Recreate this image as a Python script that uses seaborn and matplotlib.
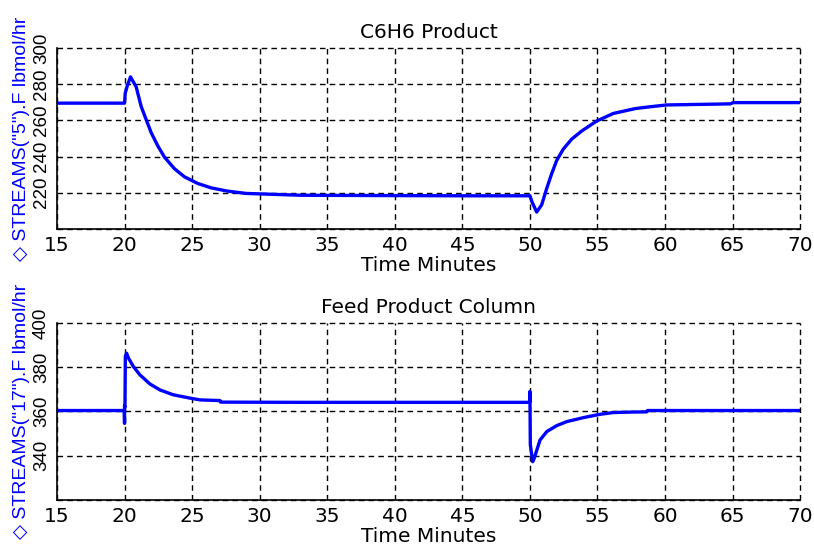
import matplotlib
matplotlib.use("Agg")
import matplotlib.pyplot as plt
import pandas as pd
import seaborn as sns

# C6H6 product stream flow (lbmol/hr) over time (minutes)
time_c6h6 = [15, 20.0, 20.05, 20.2, 20.44, 20.86, 21.23, 21.6, 21.97, 22.46, 22.96,
             23.69, 24.43, 25.42, 26.4, 27.6, 29.0, 33.0, 40.0, 45.0, 50.0, 50.15,
             50.5, 50.87, 51.24, 51.61, 51.98, 52.47, 53.09, 53.83, 54.94, 56.17,
             57.8, 58.89, 60.13, 64.82, 65.06, 70.0]
flow_c6h6 = [269.5, 269.5, 275.0, 279.0, 284.0, 278.5, 267.7, 260.4, 253.2, 245.9, 239.6,
             233.3, 228.8, 225.1, 222.7, 220.9, 219.6, 218.6, 218.4, 218.3, 218.3, 215.0,
             209.3, 213.3, 222.3, 230.5, 237.8, 244.1, 249.6, 254.1, 259.6, 263.8,
             266.5, 267.5, 268.5, 269.1, 269.8, 269.8]

# Feed product column stream flow (lbmol/hr) over time (minutes)
time_feed = [15, 19.98, 20.0, 20.0, 20.03, 20.06, 20.15, 20.3, 20.65, 21.14, 21.88,
             22.62, 23.61, 24.85, 25.59, 27.07, 27.1, 33.0, 40.0, 45.0, 49.98,
             50.0, 50.03, 50.2, 50.3, 50.75, 51.25, 51.99, 52.73, 53.96, 55.19,
             56.18, 57.5, 58.65, 58.7, 65.0, 70.0]
flow_feed = [360.4, 360.4, 354.6, 362.5, 362.0, 385.0, 386.3, 384.0, 380.3, 376.5, 372.4,
             369.7, 367.5, 366.0, 365.2, 364.9, 364.2, 364.1, 364.1, 364.1, 364.1,
             369.0, 345.0, 337.3, 338.5, 347.1, 350.9, 353.6, 355.4, 357.2, 358.7,
             359.5, 359.7, 359.8, 360.4, 360.4, 360.4]

x_ticks = [15, 20, 25, 30, 35, 40, 45, 50, 55, 60, 65, 70]
c6h6_yticks = [200, 220, 240, 260, 280, 300]
feed_yticks = [320, 340, 360, 380, 400]

panels = [
    dict(time=time_c6h6, flow=flow_c6h6, yticks=c6h6_yticks,
         title="C6H6 Product", ylabel='\u25c7 STREAMS("5").F lbmol/hr',
         rect=[0.070, 0.580, 0.913, 0.332]),
    dict(time=time_feed, flow=flow_feed, yticks=feed_yticks,
         title="Feed Product Column", ylabel='\u25c7 STREAMS("17").F lbmol/hr',
         rect=[0.070, 0.0826, 0.913, 0.325]),
]

sns.set_theme(style="white")
plt.rcParams["font.family"] = ["DejaVu Sans"]
slim = ["Liberation Sans", "DejaVu Sans"]

fig = plt.figure(figsize=(8.14, 5.45), dpi=100)
fig.patch.set_facecolor("white")

for p in panels:
    ax = fig.add_axes(p["rect"])
    df = pd.DataFrame({"t": p["time"], "f": p["flow"]})
    sns.lineplot(data=df, x="t", y="f", ax=ax, estimator=None, sort=False,
                 color="#0000ff", linewidth=2.4)
    ax.set_xlim(15, 70)
    ax.set_ylim(p["yticks"][0], p["yticks"][-1])
    ax.set_xticks(x_ticks)
    ax.set_xticklabels([str(v) for v in x_ticks])
    ax.set_yticks(p["yticks"])
    ax.set_yticklabels([""] + [str(v) for v in p["yticks"][1:]],
                       rotation=90, va="center", family=slim, fontsize=13.5)
    ax.tick_params(axis="x", labelsize=14.5)
    ax.tick_params(direction="in", length=5, width=1, colors="black", pad=5)
    ax.grid(True, color="black", linestyle=(0, (4, 3)), linewidth=1.0)
    ax.set_axisbelow(True)
    for gl in ax.get_xgridlines() + ax.get_ygridlines():
        gl.set_clip_on(False)
    for side in ("top", "right"):
        ax.spines[side].set_visible(False)
    for side in ("left", "bottom"):
        ax.spines[side].set_color("black")
        ax.spines[side].set_linewidth(1.2)
    ax.set_title(p["title"], fontsize=14.5, color="black", pad=7)
    ax.set_xlabel("Time Minutes", fontsize=14.5, color="black", labelpad=1)
    ax.set_ylabel(p["ylabel"], fontsize=14, color="#0000ff", va="center",
                  family=slim)
    ax.yaxis.set_label_coords(-0.048, 0.5)
    ax.set_facecolor("white")

fig.savefig("out.png", dpi=100, facecolor="white")
